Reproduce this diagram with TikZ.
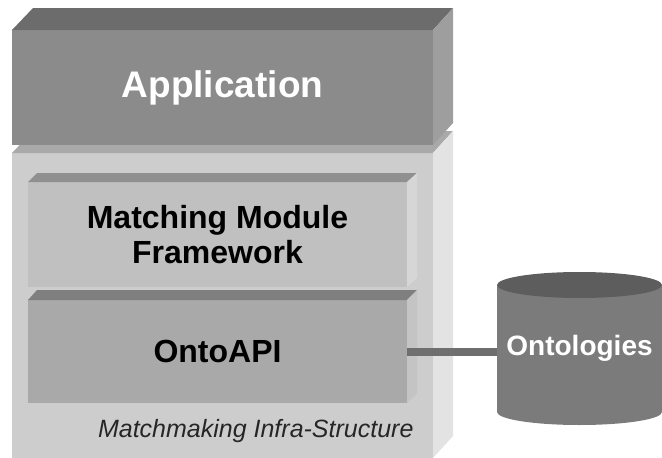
\documentclass[tikz,border=0pt]{standalone}
\usepackage{fontspec}
\setmainfont{Liberation Sans}

\definecolor{apptop}{HTML}{6C6C6C}
\definecolor{appfront}{HTML}{8B8B8B}
\definecolor{appside}{HTML}{9E9E9E}
\definecolor{infratop}{HTML}{A9A9A9}
\definecolor{infrafront}{HTML}{CDCDCD}
\definecolor{infraside}{HTML}{E3E3E3}
\definecolor{mmftop}{HTML}{909090}
\definecolor{mmffront}{HTML}{C0C0C0}
\definecolor{mmfside}{HTML}{D6D6D6}
\definecolor{ontotop}{HTML}{7F7F7F}
\definecolor{ontofront}{HTML}{A9A9A9}
\definecolor{ontoside}{HTML}{C4C4C4}
\definecolor{linkgray}{HTML}{6F6F6F}
\definecolor{cylbody}{HTML}{7B7B7B}
\definecolor{cyltop}{HTML}{5D5D5D}

\tikzset{
  face/.style={inner sep=0pt, outer sep=0pt, anchor=north west, align=center, font=\bfseries},
  link/.style={line width=8pt, draw=linkgray},
}

\begin{document}
\begin{tikzpicture}[x=1pt,y=-1pt]
  \useasboundingbox (0,0) rectangle (662,458);

  % infra-structure block
  \node[face, fill=infrafront, minimum width=421pt, minimum height=305pt] (infra) at (12,153) {};
  \fill[infratop] (infra.north west) -- ++(21,-22) -- ++(420,0) -- (infra.north east) -- cycle;
  \fill[infraside] (infra.north east) -- ++(20,-22) -- ++(0,305) -- (infra.south east) -- cycle;

  % matching module framework
  \node[face, fill=mmffront, minimum width=379pt, minimum height=105pt,
        font=\bfseries\fontsize{32}{35}\selectfont] (mmf) at (28,182) {Matching Module\\Framework};
  \fill[mmftop] (mmf.north west) -- ++(9,-9) -- ++(380,0) -- (mmf.north east) -- cycle;
  \fill[mmfside] (mmf.north east) -- ++(10,-9) -- ++(0,105) -- (mmf.south east) -- cycle;

  % ontoapi
  \node[face, fill=ontofront, minimum width=379pt, minimum height=103pt,
        font=\bfseries\fontsize{32}{35}\selectfont] (onto) at (28,300) {OntoAPI};
  \fill[ontotop] (onto.north west) -- ++(9,-10) -- ++(380,0) -- (onto.north east) -- cycle;
  \fill[ontoside] (onto.north east) -- ++(10,-10) -- ++(0,103) -- (onto.south east) -- cycle;

  \node[anchor=base east, text=black!85, font=\itshape\fontsize{25}{28}\selectfont] (mis) at (417,437)
    {Matchmaking Infra-Structure};

  % application block
  \node[face, fill=appfront, text=white, minimum width=421pt, minimum height=115pt,
        font=\bfseries\fontsize{37}{44}\selectfont] (app) at (12,30) {Application};
  \fill[apptop] (app.north west) -- ++(21,-22) -- ++(420,0) -- (app.north east) -- cycle;
  \fill[appside] (app.north east) -- ++(20,-22) -- ++(0,115) -- (app.south east) -- cycle;

  % ontologies store
  \coordinate (cyl) at (579.5,348.5);
  \draw[link] (onto.east) -- (onto.east -| cyl);
  \fill[cylbody] (cyl) ++(-82.5,-63.5) -- ++(0,127)
    arc[start angle=180, end angle=360, x radius=82.5pt, y radius=13pt] -- ++(0,-127) -- cycle;
  \fill[cyltop] (cyl) ++(0,-63.5) ellipse[x radius=82.5pt, y radius=13pt];
  \node[text=white, font=\bfseries\fontsize{28}{32}\selectfont] (ont) at (cyl) {Ontologies};
\end{tikzpicture}
\end{document}
